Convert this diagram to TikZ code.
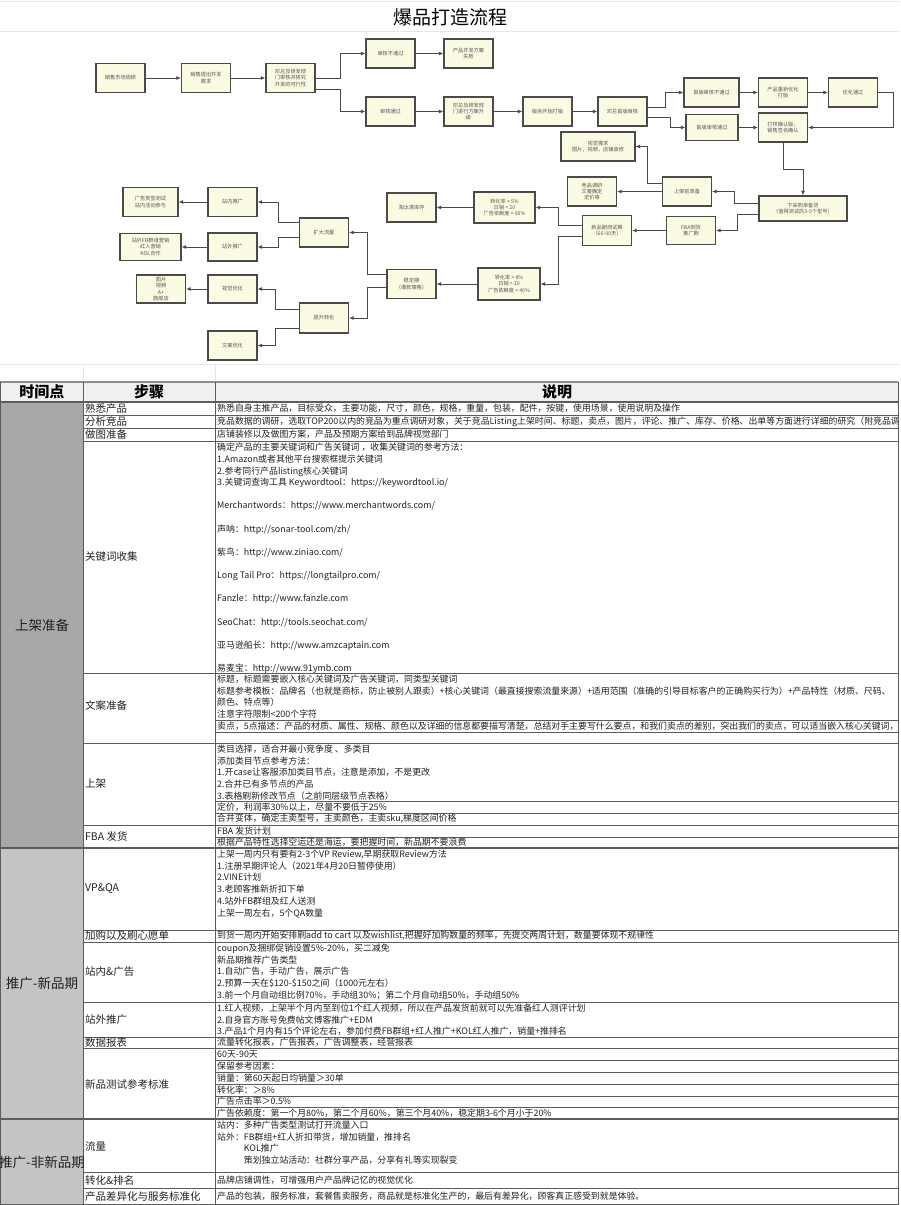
\documentclass[tikz,border=0pt]{standalone}
\usepackage{fontspec}
\setmainfont{Noto Sans CJK SC}
\usetikzlibrary{arrows.meta,calc}
\definecolor{boxfill}{HTML}{FBFBE3}
\definecolor{boxline}{HTML}{4A4A4A}
\definecolor{boxtext}{HTML}{555555}
\definecolor{gridc}{HTML}{5C5C5C}
\definecolor{faint}{HTML}{E6E6E6}
\definecolor{hdr}{HTML}{F0F0F0}
\definecolor{grpA}{HTML}{A9A7A7}
\definecolor{grpB}{HTML}{C4C4C4}
\definecolor{txt}{HTML}{222222}
\begin{document}
\begin{tikzpicture}[x=1pt,y=-1pt,
 fbox/.style={draw=boxline,line width=1.1pt,fill=boxfill,text=boxtext,font=\fontsize{5.2}{6.4}\selectfont,align=center,inner sep=0pt,minimum width=49pt,minimum height=29pt},
 arr/.style={draw=boxline,line width=1pt,-{Latex[length=4.5pt,width=4pt]}},
 desc/.style={anchor=north west,inner sep=0pt,align=left,font=\fontsize{8.9}{11.7}\selectfont,text=txt},
 descrow/.style={anchor=west,inner sep=0pt,font=\fontsize{8.9}{11.7}\selectfont,text=txt},
 steplbl/.style={anchor=west,inner sep=0pt,font=\fontsize{10.5}{12}\selectfont,text=txt},
 grplbl/.style={inner sep=0pt,font=\fontsize{13.5}{15}\selectfont,text=txt},
 hdrlbl/.style={inner sep=0pt,font=\fontsize{15}{17}\selectfont\bfseries,text=black},
 tline/.style={draw=gridc,line width=0.9pt},
 sline/.style={draw=gridc,line width=0.7pt},
 fline/.style={draw=faint,line width=0.8pt}
]
\useasboundingbox (0,0) rectangle (900,1205);
\fill[white] (0,0) rectangle (900,1205);

% ---------- title strip ----------
\draw[fline] (0,1) -- (900,1);
\draw[fline] (0,31) -- (900,31);
\node[inner sep=0pt,font=\fontsize{19}{21}\selectfont,text=black] (title) at (450,17) {爆品打造流程};

% ---------- flowchart ----------
\node[fbox] (n1) at (120.5,78) {销售市场调研};
\node[fbox] (n2) at (206,78) {销售提出开发\\需求};
\node[fbox] (n3) at (290.5,78) {邓总及研发部\\门审核并研究\\开发的可行性};
\node[fbox] (n4) at (390.5,53.5) {审核不通过};
\node[fbox] (n5) at (468.5,53.5) {产品开发方案\\失败};
\node[fbox] (n6) at (390.5,111.5) {审核通过};
\node[fbox] (n7) at (468.5,111.5) {邓总及研发部\\门进行方案升\\级};
\node[fbox] (n8) at (547.5,111.5) {版房开始打版};
\node[fbox] (n9) at (622.5,111.5) {邓总首版审核};
\node[fbox,minimum width=55pt] (n10) at (711.5,92.5) {首版审核不通过};
\node[fbox] (n11) at (783,92.5) {产品重新优化\\打版};
\node[fbox] (n12) at (853,92.5) {优化通过};
\node[fbox,minimum width=52pt,minimum height=26pt] (n13) at (712,127.5) {首版审核通过};
\node[fbox] (n14) at (783,127.5) {打样确认版，\\销售签名确认};
\node[fbox,minimum width=74pt] (n15) at (598,146.5) {视觉需求\\图片，视频，店铺装修};
\node[fbox] (n16) at (687,191.5) {上架前准备};
\node[fbox] (n18) at (592,191.5) {竞品调研\\文案确定\\定价等};
\node[fbox,minimum width=88pt,minimum height=25pt] (n17) at (803,208.5) {下采购单备货\\（值得测试的3-5个型号）};
\node[fbox,minimum height=28pt] (n19) at (691,230.5) {FBA到货\\推广期};
\node[fbox,minimum height=30pt] (n20) at (607,230.5) {新品期测试期\\（60-90天）};
\node[fbox,minimum width=61pt,minimum height=31pt] (n21) at (504.5,207.5) {转化率 < 5\%\\日销 < 20\\广告依赖度 > 60\%};
\node[fbox] (n22) at (411.5,207.5) {淘汰清库存};
\node[fbox,minimum width=62pt,minimum height=32pt] (n23) at (509,284) {转化率 > 8\%\\日销 > 30\\广告依赖度 < 40\%};
\node[fbox] (n24) at (411.5,284) {稳定期\\（爆款策略）};
\node[fbox] (n25) at (324,232.5) {扩大流量};
\node[fbox,minimum height=30pt] (n26) at (324,318) {提升转化};
\node[fbox] (n27) at (232.5,202) {站内推广};
\node[fbox,minimum height=28pt] (n28) at (232.5,247) {站外推广};
\node[fbox,minimum width=55pt] (n29) at (150.5,202) {广告类型测试\\站内活动参与};
\node[fbox,minimum width=61pt,minimum height=27pt] (n30) at (150.5,247) {站外FB群组营销\\红人营销\\KOL合作};
\node[fbox,minimum height=28pt] (n31) at (232.5,289) {视觉优化};
\node[fbox] (n32) at (232.5,345.5) {文案优化};
\node[fbox,minimum height=28pt] (n33) at (161,289) {图片\\视频\\A+\\旗舰店};

\draw[arr] (n1) -- (n2);
\draw[arr] (n2) -- (n3);
\draw[arr] (n3.east) -- ++(25,0) |- (n4.west);
\draw[arr] ($(n3.east)+(0,11)$) -- ++(25,0) |- (n6.west);
\draw[arr] (n4) -- (n5);
\draw[arr] (n6) -- (n7);
\draw[arr] (n7) -- (n8);
\draw[arr] (n8) -- (n9);
\draw[arr] ($(n9.east)+(0,-4.5)$) -- ++(18,0) |- (n10.west);
\draw[arr] ($(n9.east)+(0,5.5)$) -- ++(23,0) |- (n13.west);
\draw[arr] (n10) -- (n11);
\draw[arr] (n11) -- (n12);
\draw[arr] (n13) -- (n14);
\draw[arr] (n12.east) -- ++(15,0) |- (n14.east);
\draw[arr] (n14.south) -- ++(0,27) -| (n17.north);
\draw[arr] ($(n17.west)+(0,-5.5)$) -- ++(-24,0) |- (n16.east);
\draw[arr] (n16) -- (n18);
\draw[arr] ($(n16.west)+(0,-8.5)$) -- ++(-14,0) |- (n15.east);
\draw[arr] ($(n17.west)+(0,5.5)$) -- ++(-21,0) |- (n19.east);
\draw[arr] (n19) -- (n20);
\draw[arr] ($(n20.west)+(0,-5)$) -- ++(-23,0) |- (n21.east);
\draw[arr] ($(n20.west)+(0,5.5)$) -- ++(-23,0) |- (n23.east);
\draw[arr] (n21) -- (n22);
\draw[arr] (n23) -- (n24);
\draw[arr] ($(n24.west)+(0,-10)$) -- ++(-19,0) |- (n25.east);
\draw[arr] ($(n24.west)+(0,3.5)$) -- ++(-19,0) |- (n26.east);
\draw[arr] ($(n25.west)+(0,-10.5)$) -- ++(-20,0) |- (n27.east);
\draw[arr] ($(n25.west)+(0,4.5)$) -- ++(-20,0) |- (n28.east);
\draw[arr] (n27) -- (n29);
\draw[arr] (n28) -- (n30);
\draw[arr] ($(n26.west)+(0,-9)$) -- ++(-23,0) |- (n31.east);
\draw[arr] ($(n26.west)+(0,10)$) -- ++(-23,0) |- (n32.east);
\draw[arr] (n31) -- (n33);

% ---------- spreadsheet gap ----------
\draw[fline] (0,364) -- (900,364);
\draw[fline] (83,364) -- (83,382);
\draw[fline] (215,364) -- (215,382);

% ---------- table fills ----------
\fill[hdr] (0,382) rectangle (898,402);
\fill[grpA] (0,402) rectangle (83,848);
\fill[grpB] (0,848) rectangle (83,1119);
\fill[grpB] (0,1119) rectangle (83,1205);

% ---------- table lines ----------
\foreach \yy in {415,428,441,673,743,825,930,942,1002,1037,1048,1172,1188}
  \draw[tline] (83,\yy) -- (898,\yy);
\foreach \yy in {720,732,801,813,837,1060,1072,1084,1096,1107}
  \draw[sline] (215,\yy) -- (898,\yy);
\draw[draw=gridc!70,line width=1.5pt] (0,382) -- (898,382);
\foreach \yy in {402,848,1119}
  \draw[tline,line width=1.1pt] (0,\yy) -- (898,\yy);
\draw[tline] (0,1204.5) -- (898,1204.5);
\foreach \xx in {83,215,898}
  \draw[tline] (\xx,382) -- (\xx,1205);
\draw[tline] (0.5,382) -- (0.5,1205);

% ---------- header ----------
\node[hdrlbl] (h1) at (42,392) {时间点};
\node[hdrlbl] (h2) at (149,392) {步骤};
\node[hdrlbl] (h3) at (557,392) {说明};

% ---------- group labels ----------
\node[grplbl] (g1) at (42,625) {上架准备};
\node[grplbl] (g2) at (42,983) {推广-新品期};
\node[grplbl] (g3) at (42,1162) {推广-非新品期};

% ---------- step labels ----------
\node[steplbl] (s1) at (85,408.5) {熟悉产品};
\node[steplbl] (s2) at (85,421.5) {分析竞品};
\node[steplbl] (s3) at (85,434.5) {做图准备};
\node[steplbl] (s4) at (85,557) {关键词收集};
\node[steplbl] (s5) at (85,705) {文案准备};
\node[steplbl] (s6) at (85,784) {上架};
\node[steplbl] (s7) at (85,836.5) {FBA 发货};
\node[steplbl] (s8) at (85,889) {VP\&QA};
\node[steplbl] (s9) at (85,936) {加购以及刷心愿单};
\node[steplbl] (s10) at (85,972) {站内\&广告};
\node[steplbl] (s11) at (85,1019.5) {站外推广};
\node[steplbl] (s12) at (85,1042.5) {数据报表};
\node[steplbl] (s13) at (85,1084) {新品测试参考标准};
\node[steplbl] (s14) at (85,1146) {流量};
\node[steplbl] (s15) at (85,1180) {转化\&排名};
\node[steplbl] (s16) at (85,1196.5) {产品差异化与服务标准化};

% ---------- descriptions ----------
\begin{scope}
\clip (215,380) rectangle (897.5,1205);
\node[descrow] (d1) at (217,408.5) {熟悉自身主推产品，目标受众，主要功能，尺寸，颜色，规格，重量，包装，配件，按键，使用场景，使用说明及操作};
\node[descrow] (d2) at (217,421.5) {竞品数据的调研，选取TOP200以内的竞品为重点调研对象，关于竞品Listing上架时间、标题，卖点，图片，评论、推广、库存、价格、出单等方面进行详细的研究（附竞品调};
\node[descrow] (d3) at (217,434.5) {店铺装修以及做图方案，产品及预期方案给到品牌视觉部门};
\node[desc,font=\fontsize{8.9}{11.63}\selectfont] (d4) at (217,443) {确定产品的主要关键词和广告关键词 ，收集关键词的参考方法：\\
1.Amazon或者其他平台搜索框提示关键词\\
2.参考同行产品listing核心关键词\\
3.关键词查询工具 Keywordtool：https://keywordtool.io/\\[11.63pt]
Merchantwords：https://www.merchantwords.com/\\[11.63pt]
声呐：http://sonar-tool.com/zh/\\[11.63pt]
紫鸟：http://www.ziniao.com/\\[11.63pt]
Long Tail Pro：https://longtailpro.com/\\[11.63pt]
Fanzle：http://www.fanzle.com\\[11.63pt]
SeoChat：http://tools.seochat.com/\\[11.63pt]
亚马逊船长：http://www.amzcaptain.com\\[11.63pt]
易麦宝：http://www.91ymb.com};
\node[desc] (d5) at (217,674.8) {标题，标题需要嵌入核心关键词及广告关键词，同类型关键词\\
标题参考模板：品牌名（也就是商标，防止被别人跟卖）+核心关键词（最直接搜索流量来源）+适用范围（准确的引导目标客户的正确购买行为）+产品特性（材质、尺码、\\
颜色、特点等）\\
注意字符限制<200个字符};
\node[descrow] (d6) at (217,726) {卖点，5点描述：产品的材质、属性、规格、颜色以及详细的信息都要描写清楚，总结对手主要写什么要点，和我们卖点的差别，突出我们的卖点，可以适当嵌入核心关键词，};
\node[desc] (d7) at (217,744.8) {类目选择，适合并最小竞争度 、多类目\\
添加类目节点参考方法：\\
1.开case让客服添加类目节点，注意是添加，不是更改\\
2.合并已有多节点的产品\\
3.表格刷新修改节点（之前同层级节点表格）};
\node[descrow] (d8) at (217,807) {定价，利润率30\%以上，尽量不要低于25\%};
\node[descrow] (d9) at (217,819) {合并变体，确定主卖型号，主卖颜色，主卖sku,梯度区间价格};
\node[descrow] (d10) at (217,831) {FBA 发货计划};
\node[descrow] (d11) at (217,842.5) {根据产品特性选择空运还是海运，要把握时间，新品期不要浪费};
\node[desc] (d12) at (217,849.8) {上架一周内只有要有2-3个VP Review,早期获取Review方法\\
1.注册早期评论人（2021年4月20日暂停使用）\\
2.VINE计划\\
3.老顾客推新折扣下单\\
4.站外FB群组及红人送测\\
上架一周左右，5个QA数量};
\node[descrow] (d13) at (217,936) {到货一周内开始安排刷add to cart 以及wishlist,把握好加购数量的频率，先提交两周计划，数量要体现不规律性};
\node[desc] (d14) at (217,943.8) {coupon及捆绑促销设置5\%-20\%，买二减免\\
新品期推荐广告类型\\
1.自动广告，手动广告，展示广告\\
2.预算一天在\$120-\$150之间（1000元左右）\\
3.前一个月自动组比例70\%，手动组30\%；第二个月自动组50\%，手动组50\%};
\node[desc] (d15) at (217,1003.8) {1.红人视频，上架半个月内至到位1个红人视频，所以在产品发货前就可以先准备红人测评计划\\
2.自身官方账号免费帖文博客推广+EDM\\
3.产品1个月内有15个评论左右，参加付费FB群组+红人推广+KOL红人推广，销量+推排名};
\node[descrow] (d16) at (217,1042.5) {流量转化报表，广告报表，广告调整表，经营报表};
\node[descrow] (d17) at (217,1054) {60天-90天};
\node[descrow] (d18) at (217,1066) {保留参考因素：};
\node[descrow] (d19) at (217,1078) {销量：第60天起日均销量＞30单};
\node[descrow] (d20) at (217,1090) {转化率：＞8\%};
\node[descrow] (d21) at (217,1101.5) {广告点击率＞0.5\%};
\node[descrow] (d22) at (217,1113) {广告依赖度：第一个月80\%，第二个月60\%，第三个月40\%，稳定期3-6个月小于20\%};
\node[desc] (d23) at (217,1120.8) {站内：多种广告类型测试打开流量入口\\
站外：FB群组+红人折扣带货，增加销量，推排名\\
\hspace*{26.7pt}KOL推广\\
\hspace*{26.7pt}策划独立站活动：社群分享产品，分享有礼等实现裂变};
\node[descrow] (d24) at (217,1180) {品牌店铺调性，可增强用户产品牌记忆的视觉优化};
\node[descrow] (d25) at (217,1196.5) {产品的包装，服务标准，套餐售卖服务，商品就是标准化生产的，最后有差异化，顾客真正感受到就是体验。};
\end{scope}
\end{tikzpicture}
\end{document}
